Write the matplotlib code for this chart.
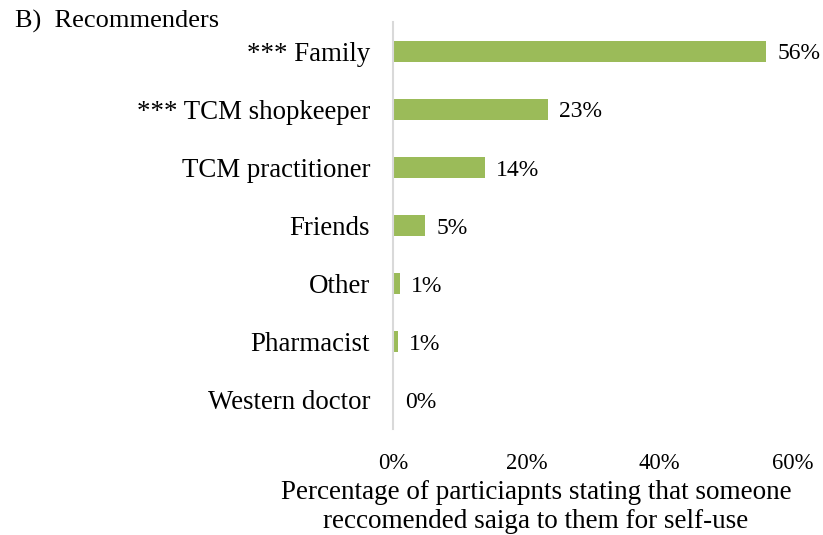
import matplotlib
matplotlib.use("Agg")
import matplotlib.pyplot as plt
from matplotlib.ticker import FuncFormatter

plt.rcParams['font.family'] = ['Liberation Serif', 'DejaVu Serif']

categories = ["*** Family", "*** TCM shopkeeper", "TCM practitioner", "Friends",
              "Other", "Pharmacist", "Western doctor"]
values = [56.0, 23.2, 13.8, 4.8, 1.0, 0.75, 0.2]
value_labels = ["56%", "23%", "14%", "5%", "1%", "1%", "0%"]
xticks = [0, 20, 40, 60]

fig = plt.figure(figsize=(8.23, 5.35), dpi=100)
ax = fig.add_axes([393/823, 1-429/535, 400/823, (429-22)/535])

ypos = list(range(len(categories)))[::-1]
ax.barh(ypos, values, height=0.36, color="#9BBB59")
for y, v, lab in zip(ypos, values, value_labels):
    ax.annotate(lab, (v, y), xytext=(8, -2), textcoords="offset points",
                va="center", ha="left", fontsize=17)

ax.set_xlim(0, 60)
ax.set_ylim(-0.5, len(categories)-0.5)
ax.set_yticks(ypos)
ax.set_yticklabels(categories, fontsize=19.4)
ax.set_xticks(xticks)
ax.xaxis.set_major_formatter(FuncFormatter(lambda x, p: f"{int(x)}%"))
ax.tick_params(axis='x', length=0, labelsize=16.3, pad=17)
ax.tick_params(axis='y', length=0, pad=16.5)
for s in ["top", "right", "bottom"]:
    ax.spines[s].set_visible(False)
ax.spines["left"].set_color("#D9D9D9")
ax.spines["left"].set_linewidth(1.5)

fig.text(15/823, 1-21/535, "B)  Recommenders", fontsize=19, va="center", ha="left")
fig.text(536/823, 1-507/535,
         "Percentage of particiapnts stating that someone\nreccomended saiga to them for self-use",
         fontsize=19.5, ha="center", va="center", linespacing=1.22)

fig.savefig("out.png", dpi=100)
